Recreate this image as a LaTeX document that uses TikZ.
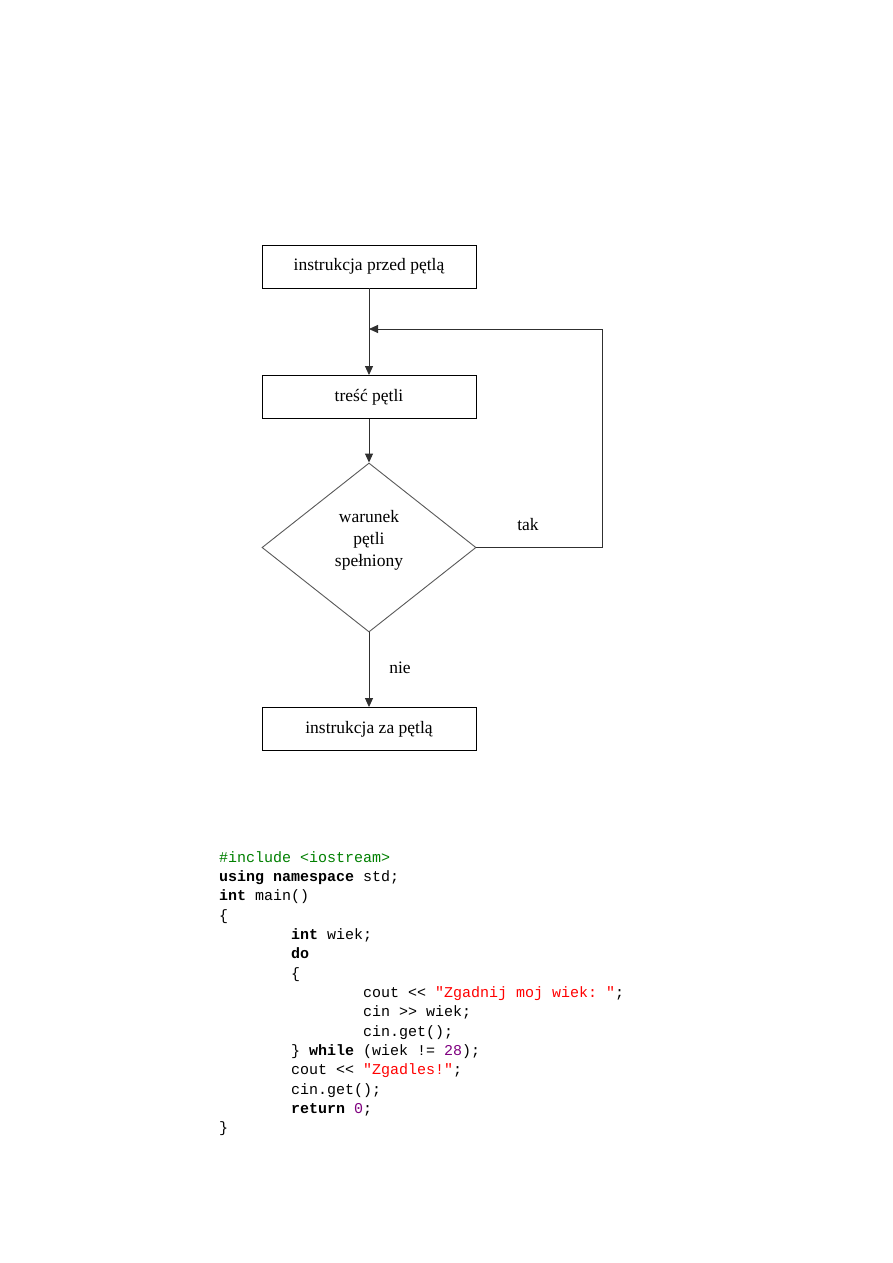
\documentclass[tikz,border=0pt]{standalone}
\usepackage{fontspec}
\setmainfont{Liberation Serif}
\setmonofont{Liberation Mono}
\usetikzlibrary{shapes.geometric,arrows.meta}
\definecolor{cgreen}{HTML}{008000}
\definecolor{cred}{HTML}{FF0000}
\definecolor{cpurple}{HTML}{800080}
\definecolor{cline}{HTML}{303030}
\tikzset{
  box/.style={draw=black,line width=0.9pt,minimum width=214pt,minimum height=43pt,inner sep=0pt,font=\fontsize{17.5}{20}\selectfont},
  lbl/.style={inner sep=0pt,font=\fontsize{17.5}{20}\selectfont},
  conn/.style={draw=cline,line width=0.9pt,-{Triangle[length=9pt,width=8pt]}},
  codeln/.style={anchor=base west,inner sep=0pt,font=\fontsize{15}{18}\ttfamily}
}
\begin{document}
\begin{tikzpicture}[x=1pt,y=-1pt]
\useasboundingbox (0,0) rectangle (893,1263);
\fill[white] (0,0) rectangle (893,1263);
% flowchart
\node[box] (b1) at (369,266.5) {instrukcja przed pętlą};
\node[box] (b2) at (369,397) {treść pętli};
\node[draw=cline!80,line width=0.9pt,shape=diamond,minimum width=214pt,minimum height=169pt,inner sep=0pt] (dia) at (369,547.5) {};
\node[lbl,align=center,font=\fontsize{17.5}{22}\selectfont] (dt) at (369,540) {warunek\\pętli\\spełniony};
\node[box] (b3) at (369,729) {instrukcja za pętlą};
\coordinate (j) at (369,329);
\coordinate (r) at (602,547.5);
\node[lbl] (tak) at (528,525) {tak};
\node[lbl] (nie) at (400,668) {nie};
\draw[conn] (b1.south) -- (b2.north);
\draw[conn] (b2.south) -- (dia.north);
\draw[conn] (dia.south) -- (b3.north);
\draw[conn] (dia.east) -- (r) |- (j);
% code
\node[codeln,text=cgreen] (c1) at (219,862) {\#include <iostream>};
\node[codeln] (c2) at (219,881) {\textbf{using namespace} std;};
\node[codeln] (c3) at (219,900.5) {\textbf{int} main()};
\node[codeln] (c4) at (219,920) {\{};
\node[codeln] (c5) at (291,939) {\textbf{int} wiek;};
\node[codeln] (c6) at (291,958.5) {\textbf{do}};
\node[codeln] (c7) at (291,978) {\{};
\node[codeln] (c8) at (363,997) {cout << \textcolor{cred}{"Zgadnij moj wiek: "};};
\node[codeln] (c9) at (363,1016.5) {cin >> wiek;};
\node[codeln] (c10) at (363,1036) {cin.get();};
\node[codeln] (c11) at (291,1055) {\} \textbf{while} (wiek != \textcolor{cpurple}{28});};
\node[codeln] (c12) at (291,1074.5) {cout << \textcolor{cred}{"Zgadles!"};};
\node[codeln] (c13) at (291,1094) {cin.get();};
\node[codeln] (c14) at (291,1113) {\textbf{return} \textcolor{cpurple}{0};};
\node[codeln] (c15) at (219,1132.5) {\}};
\end{tikzpicture}
\end{document}
